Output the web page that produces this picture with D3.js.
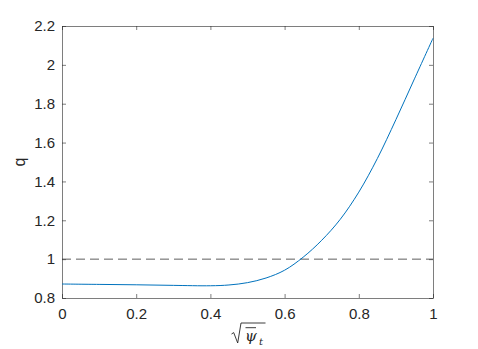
<!DOCTYPE html>
<html>
<head>
<meta charset="utf-8">
<script src="https://cdn.jsdelivr.net/npm/d3@7"></script>
<style>
  body { margin: 0; background: #fff; }
</style>
</head>
<body>
<div id="chart"></div>
<script>
// values
const psiVals = [0, 0.1, 0.2, 0.3, 0.4, 0.45, 0.5, 0.55, 0.6, 0.65, 0.7, 0.75, 0.8, 0.85, 0.9, 0.95, 1.0];
const qVals   = [0.872, 0.870, 0.868, 0.865, 0.863, 0.867, 0.879, 0.903, 0.943, 1.010, 1.097, 1.205, 1.345, 1.518, 1.718, 1.928, 2.137];
const refPsi = [0, 1];
const refQ   = [1, 1];
const xTicks = [0, 0.2, 0.4, 0.6, 0.8, 1];
const yTicks = [0.8, 1, 1.2, 1.4, 1.6, 1.8, 2, 2.2];

const figure_width = 478;
const figure_height = 349;
const margin = { top: 26, right: 45, bottom: 51, left: 62 },
    plot_width = figure_width - margin.left - margin.right,
    plot_height = figure_height - margin.top - margin.bottom;

const axisColor = '#262626';
const tickFont = 'font-size:15px; font-family:"Liberation Sans", Arial, sans-serif;';

const svg = d3.select( 'div#chart' )
  .append( 'svg' )
    .attr( 'width', figure_width )
    .attr( 'height', figure_height )
    .append( 'g' )
      .attr( 'transform', 'translate(' + margin.left + ',' + margin.top + ')' );

const x = d3.scaleLinear().domain( [0, 1] ).range( [0, plot_width] );
const y = d3.scaleLinear().domain( [0.8, 2.2] ).range( [plot_height, 0] );
const fmt = d3.format( '~g' );

// axes, MATLAB style: box on, ticks pointing inward
function styleAxis( g ) {
  g.select( '.domain' ).attr( 'stroke', axisColor ).attr( 'stroke-width', 0.6 );
  g.selectAll( '.tick line' ).attr( 'stroke', axisColor ).attr( 'stroke-width', 0.6 );
  g.selectAll( '.tick text' ).attr( 'fill', axisColor ).attr( 'style', tickFont );
}

svg.append( 'g' )
  .attr( 'transform', 'translate(0,' + plot_height + ')' )
  .call( d3.axisBottom( x ).tickValues( xTicks ).tickFormat( fmt ).tickSizeInner( -4 ).tickSizeOuter( 0 ).tickPadding( 10 ) )
  .call( styleAxis );

svg.append( 'g' )
  .call( d3.axisTop( x ).tickValues( xTicks ).tickFormat( '' ).tickSizeInner( -4 ).tickSizeOuter( 0 ) )
  .call( styleAxis );

svg.append( 'g' )
  .call( d3.axisLeft( y ).tickValues( yTicks ).tickFormat( fmt ).tickSizeInner( -4 ).tickSizeOuter( 0 ).tickPadding( 7 ) )
  .call( styleAxis );

svg.append( 'g' )
  .attr( 'transform', 'translate(' + plot_width + ',0)' )
  .call( d3.axisRight( y ).tickValues( yTicks ).tickFormat( '' ).tickSizeInner( -4 ).tickSizeOuter( 0 ) )
  .call( styleAxis );

// dashed reference line q = 1
svg.append( 'path' )
  .datum( d3.zip( refPsi, refQ ) )
  .attr( 'fill', 'none' )
  .attr( 'stroke', '#333' )
  .attr( 'stroke-width', 0.8 )
  .attr( 'stroke-dasharray', '9,5' )
  .attr( 'd', d3.line().x( d => x( d[0] ) ).y( d => y( d[1] ) ) );

// q profile
svg.append( 'path' )
  .datum( d3.zip( psiVals, qVals ) )
  .attr( 'fill', 'none' )
  .attr( 'stroke', '#0072BD' )
  .attr( 'stroke-width', 1 )
  .attr( 'd', d3.line().curve( d3.curveCatmullRom.alpha( 0.5 ) ).x( d => x( d[0] ) ).y( d => y( d[1] ) ) );

// y axis label
svg.append( 'text' )
  .attr( 'transform', 'translate(' + ( -37 ) + ',' + ( plot_height / 2 ) + ') rotate(-90)' )
  .attr( 'text-anchor', 'middle' )
  .attr( 'fill', axisColor )
  .attr( 'style', 'font-size:16px; font-family:"Liberation Sans", Arial, sans-serif;' )
  .text( 'q' );

// x axis label: sqrt( bar psi_t )
const xl = svg.append( 'g' )
  .attr( 'transform', 'translate(' + ( plot_width / 2 - 16 ) + ',' + ( plot_height + 25 ) + ')' );
xl.append( 'path' )
  .attr( 'd', 'M0,11 L2.2,9.6 L6.2,20 L9.5,0 L34,0' )
  .attr( 'fill', 'none' )
  .attr( 'stroke', axisColor )
  .attr( 'stroke-width', 0.9 );
xl.append( 'text' )
  .attr( 'x', 13.5 )
  .attr( 'y', 18 )
  .attr( 'fill', axisColor )
  .attr( 'style', 'font-size:15px; font-style:italic; font-family:"DejaVu Serif", serif;' )
  .text( 'ψ' );
xl.append( 'path' )
  .attr( 'd', 'M14,4.7 L24.5,4.7' )
  .attr( 'stroke', axisColor )
  .attr( 'stroke-width', 0.9 );
xl.append( 'text' )
  .attr( 'x', 27.5 )
  .attr( 'y', 21.5 )
  .attr( 'fill', axisColor )
  .attr( 'style', 'font-size:10px; font-style:italic; font-family:"DejaVu Serif", serif;' )
  .text( 't' );
</script>
</body>
</html>
